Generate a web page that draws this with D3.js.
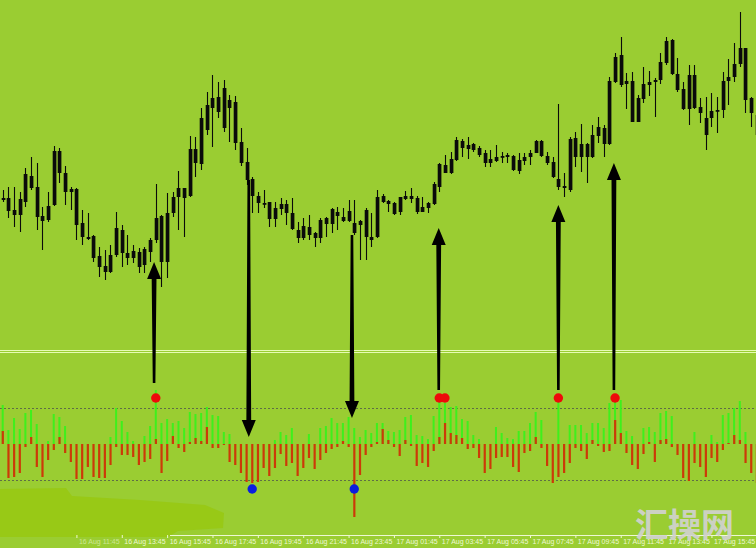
<!DOCTYPE html>
<html><head><meta charset="utf-8">
<script src="https://cdn.jsdelivr.net/npm/d3@7"></script>
<style>html,body{margin:0;padding:0;background:#9acd32;} svg{display:block}</style>
</head><body>
<svg id="c" width="756" height="548"></svg>
<script>
// ---- price data (M15 candles, price index units) ----
const opens  = [200,202,190,185,198,212,213,184,180,195, 227,227,211,211,177,163,164,144,134,128, 145,170,147,142,148,135,148,160,184,138, 187,203,212,204,251,236,270,292,303,272, 300,298,258,238,221,204,197,198,181,191, 196,187,170,162,173,167,162,176,176,188, 183,179,177,175,190,163,163,198,199,197, 188,201,204,202,188,192,196,213,227,227, 240,259,255,250,252,247,241,239,243,243, 244,240,239,243,247,259,244,238,221,214, 210,243,256,243,243,264,272,256,318,345, 319,319,278,301,315,318,320,337,360,326, 311,291,325,293,282,282,289,290,319,323, 336,352,302,285];
const highs  = [210,213,213,208,232,243,237,193,208,254, 252,234,213,212,190,187,165,153,150,155, 188,175,165,155,152,153,162,216,185,207, 208,229,212,264,263,292,308,325,318,320, 305,304,272,252,223,208,210,198,198,202, 200,202,178,182,185,168,182,183,192,193, 192,200,200,180,192,187,210,206,200,198, 203,209,212,204,203,198,218,237,245,248, 263,261,263,257,254,250,250,255,248,247, 245,247,247,250,260,260,248,243,296,227, 263,268,276,257,275,283,275,323,347,363, 327,328,305,333,329,322,347,363,361,342, 318,335,335,302,303,307,303,328,341,357, 388,352,303,290];
const lows   = [198,182,173,168,193,210,170,150,178,194, 217,195,190,160,155,160,138,123,120,127, 143,133,135,137,127,127,138,157,113,122, 183,170,163,203,223,230,265,253,282,268, 258,250,234,215,187,187,192,173,173,185, 175,170,157,160,160,153,157,163,167,170, 178,178,165,140,140,153,162,197,188,185, 185,200,197,186,188,187,195,208,227,226, 239,243,241,248,243,233,233,238,237,237, 229,226,235,235,247,243,235,222,210,203, 208,233,228,217,242,257,243,255,317,313, 291,278,278,297,304,283,316,335,325,308, 290,275,291,277,250,273,267,282,295,318, 333,287,273,260];
const closes = [202,189,185,201,226,224,183,179,194,249, 249,208,208,175,163,161,142,133,128,145, 172,147,142,149,133,151,160,182,138,187, 203,212,202,251,237,282,295,302,288,312, 292,257,237,220,204,197,196,181,192,196, 187,171,162,174,165,162,180,182,191,184, 179,189,167,179,163,160,203,204,196,186, 203,204,201,188,193,197,216,236,235,241, 260,252,251,256,245,237,237,243,244,245, 230,229,243,247,259,244,237,223,213,212, 261,262,243,256,265,273,256,319,343,315, 316,278,302,316,318,320,338,359,326,310, 291,325,292,287,265,289,290,319,323,336, 352,300,287,265];

// ---- oscillator histogram ----
const oscGreen = [39,14,26,15,31,34,20,0,3,30, 27,18,0,0,0,0,0,0,0,7, 36,23,12,3,0,8,18,54,21,25, 21,23,16,32,30,31,37,29,28,12, 10,0,0,0,0,0,0,0,4,12, 9,16,0,0,10,0,16,18,26,21, 21,27,16,7,14,11,21,21,13,12, 14,27,29,9,8,5,28,46,41,37, 38,25,23,9,5,0,0,17,11,6, 5,13,13,21,32,24,0,0,45,0, 19,19,19,11,21,21,16,41,46,44, 13,8,0,16,17,12,31,33,28,0, 0,0,12,0,0,9,2,29,31,36, 43,12,0,0];
const oscRed = [13,-34,-33,-29,-3,7,-23,-33,-16,-6, 7,-9,-18,-35,-35,-23,-33,-34,-34,-21, -3,-11,-11,-13,-21,-18,-15,5,-29,-17, 8,-4,-8,2,6,3,17,-4,-4,-1, -18,-21,-29,-38,-39,-38,-24,-32,-24,-10, -22,-19,-32,-24,-14,-25,-16,-9,-5,-3, 3,-3,-73,-31,-11,-3,2,15,4,-3, -12,4,-2,-22,-19,-23,-7,7,21,11, 9,6,-5,-4,-14,-29,-25,-14,-13,-13, -23,-28,-9,-7,7,-4,-22,-39,-33,-29, -19,-4,-7,-15,4,-2,-8,-7,24,11, -9,-21,-25,-10,2,-18,4,5,-3,-11, -34,-37,-19,-23,-33,-14,-18,-6,1,9, 4,-19,-29,-39];
const oscLevels = [36, -36];

// ---- signals ----
const buySignals = [27, 77, 78, 98, 108];
const sellSignals = [44, 62];
const buyLevel = 46, sellLevel = -45;
const arrowsUp = [ {i:26.7, from:61, to:138}, {i:76.9, from:54, to:172}, {i:98, from:54, to:195}, {i:107.8, from:54, to:237} ];
const arrowsDown = [ {i:43.4, from:220, to:7}, {i:61.6, from:165, to:26} ];

// ---- time axis ----
const tickIdx = [13,21,29,37,45,53,61,69,77,85,93,101,109,117,125];
const tickLabels = ["16 Aug 11:45","16 Aug 13:45","16 Aug 15:45","16 Aug 17:45","16 Aug 19:45","16 Aug 21:45","16 Aug 23:45","17 Aug 01:45","17 Aug 03:45","17 Aug 05:45","17 Aug 07:45","17 Aug 09:45","17 Aug 11:45","17 Aug 13:45","17 Aug 15:45"];

const W = 756, H = 548;
const svg = d3.select("#c");
const x = d3.scaleLinear().domain([0, 133]).range([2.7, 756.8]);
const yP = d3.scaleLinear().domain([0, 400]).range([400, 0]);
const yO = d3.scaleLinear().domain([-100, 100]).range([544, 344]);

svg.append("rect").attr("width", W).attr("height", H).attr("fill", "#9acd32");

// separator
[350.5, 352.5].forEach(v => svg.append("line").attr("x1",0).attr("x2",W).attr("y1",v).attr("y2",v)
  .attr("stroke","#e6fbb4").attr("stroke-width",1));

// levels
svg.selectAll("line.lvl").data(oscLevels).join("line").attr("class","lvl")
  .attr("x1",0).attr("x2",W).attr("y1",d=>Math.round(yO(d))+0.5).attr("y2",d=>Math.round(yO(d))+0.5)
  .attr("stroke","#5f6f45").attr("stroke-width",1).attr("stroke-dasharray","2,2");

const idx = d3.range(opens.length);
// histogram
svg.append("g").selectAll("rect").data(idx.filter(i=>oscGreen[i]>0)).join("rect")
  .attr("x", i => x(i)-1).attr("width", 2)
  .attr("y", i => yO(oscGreen[i])).attr("height", i => yO(0)-yO(oscGreen[i]))
  .attr("fill", "#3ef01c");
svg.append("g").selectAll("rect").data(idx).join("rect")
  .attr("x", i => x(i)-1).attr("width", 2.2)
  .attr("y", i => Math.min(yO(0), yO(oscRed[i]))).attr("height", i => Math.abs(yO(0)-yO(oscRed[i])))
  .attr("fill", "#cc3a08");

// candles
const cg = svg.append("g");
cg.selectAll("line").data(idx).join("line")
  .attr("x1", i => Math.round(x(i))+0.5).attr("x2", i => Math.round(x(i))+0.5)
  .attr("y1", i => yP(highs[i])).attr("y2", i => yP(lows[i]))
  .attr("stroke", "#0a0a0a").attr("stroke-width", 1.1);
cg.selectAll("rect").data(idx).join("rect")
  .attr("x", i => Math.round(x(i))-1.3).attr("width", 3.7)
  .attr("y", i => yP(Math.max(opens[i], closes[i])))
  .attr("height", i => Math.max(1.8, Math.abs(yP(opens[i]) - yP(closes[i]))))
  .attr("fill", "#0a0a0a");

// arrows
function arrowPath(xc, yTail, yTip) {
  const s = yTail > yTip ? 1 : -1;
  const hl = 17, hw = 7, wt = 1.3, wb = 2.4;
  const base = yTip + s * hl;
  return `M${xc-wt},${yTail}L${xc-wb},${base}L${xc-hw},${base}L${xc},${yTip}L${xc+hw},${base}L${xc+wb},${base}L${xc+wt},${yTail}Z`;
}
svg.append("g").selectAll("path.up").data(arrowsUp).join("path")
  .attr("d", d => arrowPath(x(d.i), yO(d.from), yP(d.to))).attr("fill", "#000");
svg.append("g").selectAll("path.dn").data(arrowsDown).join("path")
  .attr("d", d => arrowPath(x(d.i), yP(d.from), yO(d.to))).attr("fill", "#000");

// dots
svg.append("g").selectAll("circle").data(buySignals).join("circle")
  .attr("cx", i => x(i)).attr("cy", yO(buyLevel)).attr("r", 4.7).attr("fill", "#ee0a0a");
svg.append("g").selectAll("circle").data(sellSignals).join("circle")
  .attr("cx", i => x(i)).attr("cy", yO(sellLevel)).attr("r", 4.7).attr("fill", "#0a1ee0");

// axis
const axis = d3.axisBottom(x).tickValues(tickIdx).tickFormat((d,k)=>tickLabels[k]).tickSize(3).tickSizeOuter(0);
const ag = svg.append("g").attr("transform","translate(0,535)").call(axis);
ag.select(".domain").attr("stroke","#eef8d4");
ag.selectAll(".tick line").attr("stroke","#eef8d4");

// smudge bottom-left (covers axis line left part)
svg.append("path")
  .attr("d","M0,489 L66,488 L72,496 L140,500 L205,505 L224,513 L223,528 L178,531 L168,537 L0,537 Z")
  .attr("fill","#98c812").attr("opacity",0.85);

ag.raise();
ag.select(".domain").attr("d","M170,0.5H756");
ag.selectAll("text").attr("text-anchor","start").attr("x",2).attr("y",4)
  .attr("fill","#eef8d4").style("font-size","7px").style("font-family","'Liberation Sans', Arial, sans-serif")
  .attr("opacity",(d,k)=> k===0 ? 0.6 : 1);

// watermark
svg.append("text").attr("x",635).attr("y",537).text("汇操网")
  .attr("font-family","'Noto Sans CJK SC', sans-serif").attr("font-weight","bold").attr("font-size",33)
  .attr("fill","#d2d2d2").attr("opacity",0.9);
</script>
</body></html>
